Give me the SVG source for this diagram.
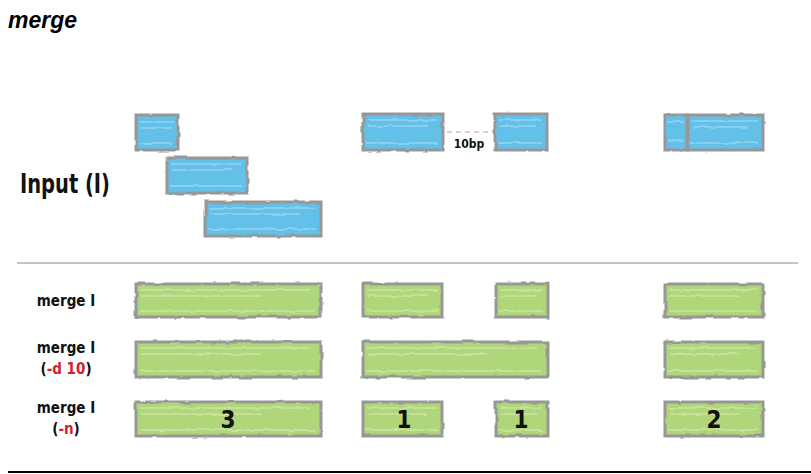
<svg xmlns="http://www.w3.org/2000/svg" width="811" height="474" viewBox="0 0 811 474">
<defs>
<filter id="rough" x="-5%" y="-20%" width="110%" height="140%">
<feTurbulence type="fractalNoise" baseFrequency="0.08" numOctaves="2" seed="3" result="n"/>
<feDisplacementMap in="SourceGraphic" in2="n" scale="3" xChannelSelector="R" yChannelSelector="G"/>
</filter>
</defs>
<style>
.blue{fill:#63c1e9;stroke:#979797;stroke-width:3}
.green{fill:#b0d67a;stroke:#979797;stroke-width:3}
.streak{stroke:#ffffff;stroke-opacity:0.5;stroke-width:1.2;fill:none}
.lbl{font-family:"DejaVu Sans Condensed","DejaVu Sans",sans-serif;font-weight:bold;fill:#111}
.red{fill:#d0222f}
.num{font-family:"DejaVu Sans Condensed","DejaVu Sans",sans-serif;font-weight:bold;font-size:24px;fill:#111;text-anchor:middle}
</style>
<rect width="811" height="474" fill="#ffffff"/>
<text x="8" y="28" font-family="Liberation Sans, Arial, sans-serif" font-weight="bold" font-style="italic" font-size="23" fill="#000">merge</text>

<g id="label-input"><text class="lbl" x="20" y="193" font-size="27" textLength="90" lengthAdjust="spacingAndGlyphs">Input (I)</text></g>

<g id="input" filter="url(#rough)">
<g id="in-a"><rect class="blue" x="136" y="115" width="42" height="35"/><path class="streak" d="M140 122h34M141 128h30M140 143h32"/></g>
<g id="in-b"><rect class="blue" x="167" y="158" width="80" height="35"/><path class="streak" d="M171 164h70M172 170h60M170 186h72"/></g>
<g id="in-c"><rect class="blue" x="205" y="202" width="116" height="34"/><path class="streak" d="M209 208h106M210 214h90M208 229h108"/></g>
<g id="in-d"><rect class="blue" x="363" y="114" width="80" height="36"/><path class="streak" d="M367 120h70M368 126h60M366 143h72"/></g>
<g id="in-e"><rect class="blue" x="495" y="114" width="52" height="36"/><path class="streak" d="M499 120h42M500 126h36M498 143h44"/></g>
<g id="in-f"><rect class="blue" x="665" y="115" width="22" height="35"/><path class="streak" d="M668 122h16M668 140h16"/></g>
<g id="in-g"><rect class="blue" x="688" y="115" width="75" height="35"/><path class="streak" d="M692 121h66M693 127h55M691 143h67"/></g>
</g>
<g id="gap-label">
<line x1="447" y1="132" x2="492" y2="132" stroke="#aaaaaa" stroke-width="1.2" stroke-dasharray="5,4"/>
<text class="lbl" x="469" y="148" font-size="12" text-anchor="middle">10bp</text>
</g>

<line x1="17" y1="263" x2="798" y2="263" stroke="#c4c4c4" stroke-width="2"/>

<g id="label-r1"><text class="lbl" x="66" y="306" font-size="15" text-anchor="middle">merge I</text></g>
<g id="label-r2"><text class="lbl" x="66" y="353" font-size="15" text-anchor="middle">merge I</text><text class="lbl" x="66" y="374" font-size="15" text-anchor="middle">(<tspan class="red">-d 10</tspan>)</text></g>
<g id="label-r3"><text class="lbl" x="66" y="413" font-size="15" text-anchor="middle">merge I</text><text class="lbl" x="66" y="434" font-size="15" text-anchor="middle">(<tspan class="red">-n</tspan>)</text></g>

<g id="row1" filter="url(#rough)">
<g id="r1-a"><rect class="green" x="136" y="284" width="185" height="33"/><path class="streak" d="M140 290h170M141 296h120M140 311h175"/></g>
<g id="r1-b"><rect class="green" x="363" y="284" width="79" height="33"/><path class="streak" d="M367 290h70M368 296h60M366 311h72"/></g>
<g id="r1-c"><rect class="green" x="496" y="284" width="52" height="33"/><path class="streak" d="M500 290h42M501 296h36M499 311h44"/></g>
<g id="r1-d"><rect class="green" x="665" y="284" width="98" height="33"/><path class="streak" d="M669 290h88M670 296h70M668 311h90"/></g>
</g>
<g id="row2" filter="url(#rough)">
<g id="r2-a"><rect class="green" x="136" y="342" width="185" height="35"/><path class="streak" d="M140 348h170M141 354h120M140 371h175"/></g>
<g id="r2-b"><rect class="green" x="363" y="342" width="185" height="35"/><path class="streak" d="M367 348h170M368 354h120M366 371h175"/></g>
<g id="r2-c"><rect class="green" x="665" y="342" width="98" height="35"/><path class="streak" d="M669 348h88M670 354h70M668 371h90"/></g>
</g>
<g id="row3" filter="url(#rough)">
<g id="r3-a"><rect class="green" x="136" y="402" width="185" height="34"/><path class="streak" d="M140 408h170M141 414h120M140 430h175"/></g>
<g id="r3-b"><rect class="green" x="363" y="402" width="79" height="34"/><path class="streak" d="M367 408h70M368 414h60M366 430h72"/></g>
<g id="r3-c"><rect class="green" x="496" y="402" width="52" height="34"/><path class="streak" d="M500 408h42M501 414h36M499 430h44"/></g>
<g id="r3-d"><rect class="green" x="665" y="402" width="98" height="34"/><path class="streak" d="M669 408h88M670 414h70M668 430h90"/></g>
</g>
<g id="counts">
<text class="num" x="228" y="428">3</text>
<text class="num" x="404" y="428">1</text>
<text class="num" x="521" y="428">1</text>
<text class="num" x="714" y="428">2</text>
</g>

<line x1="8" y1="472" x2="811" y2="472" stroke="#000" stroke-width="2"/>
</svg>
